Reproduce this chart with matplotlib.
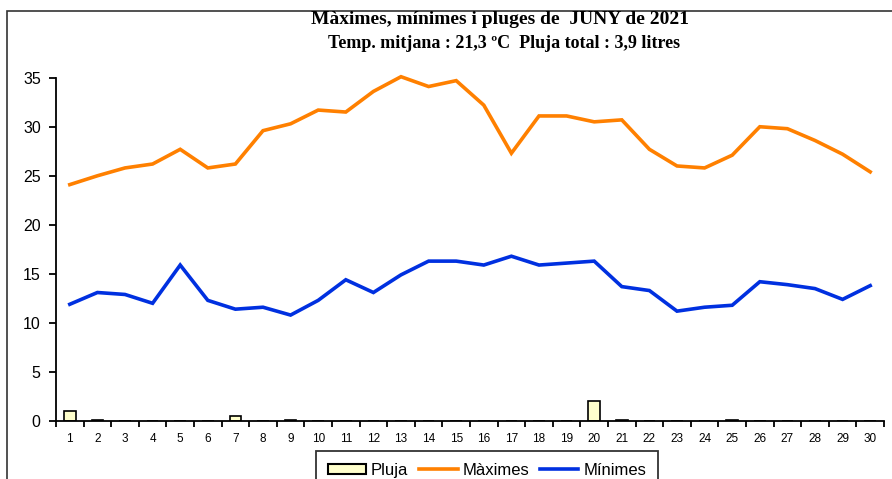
import matplotlib
matplotlib.use("Agg")
import matplotlib.pyplot as plt
from matplotlib.patches import Rectangle, Patch
from matplotlib.lines import Line2D
import numpy as np

days = list(range(1, 31))
maximes = [24.1, 25.0, 25.8, 26.2, 27.7, 25.8, 26.2, 29.6, 30.3, 31.7,
           31.5, 33.6, 35.1, 34.1, 34.7, 32.2, 27.3, 31.1, 31.1, 30.5,
           30.7, 27.7, 26.0, 25.8, 27.1, 30.0, 29.8, 28.6, 27.2, 25.4]
minimes = [11.9, 13.1, 12.9, 12.0, 15.9, 12.3, 11.4, 11.6, 10.8, 12.3,
           14.4, 13.1, 14.9, 16.3, 16.3, 15.9, 16.8, 15.9, 16.1, 16.3,
           13.7, 13.3, 11.2, 11.6, 11.8, 14.2, 13.9, 13.5, 12.4, 13.8]
pluja = [1.0, 0.1, 0, 0, 0, 0, 0.5, 0, 0.1, 0,
         0, 0, 0, 0, 0, 0, 0, 0, 0, 2.0,
         0.1, 0, 0, 0, 0.1, 0, 0, 0, 0, 0]

title1 = "Màximes, mínimes i pluges de  JUNY de 2021"
title2 = "Temp. mitjana : 21,3 ºC  Pluja total : 3,9 litres"

c_max = "#FF8000"
c_min = "#0030E0"
c_rain = "#FFFFCC"

W, H = 892, 479
fig = plt.figure(figsize=(W / 100, H / 100), dpi=100)
ax = fig.add_axes([56 / W, 1 - 421 / H, (884 - 56) / W, (421 - 77.7) / H])

ax.bar(days, pluja, width=0.42, color=c_rain, edgecolor="black", linewidth=1.2, zorder=2)
ax.plot(days, maximes, color=c_max, lw=2.6, zorder=3, clip_on=False, solid_joinstyle="miter")
ax.plot(days, minimes, color=c_min, lw=2.6, zorder=3, clip_on=False, solid_joinstyle="miter")

ax.set_xlim(0.5, 30.5)
ax.set_ylim(0, 35)
for s in ("top", "right"):
    ax.spines[s].set_visible(False)
for s in ("left", "bottom"):
    ax.spines[s].set_linewidth(1.3)

ax.set_yticks(range(0, 36, 5))
ax.tick_params(axis="y", direction="out", length=5, width=1.3, labelsize=11.5, pad=6)
ax.set_xticks(np.arange(0.5, 31, 1))
ax.set_xticklabels([])
ax.tick_params(axis="x", which="major", direction="out", length=4, width=1.3)
ax.set_xticks(days, minor=True)
ax.set_xticklabels([str(d) for d in days], minor=True)
ax.tick_params(axis="x", which="minor", length=0, labelsize=8.5, pad=9)
for lab in ax.get_xticklabels(minor=True) + ax.get_yticklabels():
    lab.set_family("Liberation Sans")

fig.text(500 / W, 1 - 19 / H, title1, ha="center", va="center",
         family="Liberation Serif", weight="bold", fontsize=14)
fig.text(504 / W, 1 - 44 / H, title2, ha="center", va="center",
         family="Liberation Serif", weight="bold", fontsize=13)

fig.add_artist(Rectangle((7 / W, -0.1), 2, 1.1 - 11 / H, transform=fig.transFigure,
                         fill=False, edgecolor="#333333", lw=1.2))

handles = [Patch(facecolor=c_rain, edgecolor="black", lw=1.5),
           Line2D([], [], color=c_max, lw=2.6),
           Line2D([], [], color=c_min, lw=2.6)]
leg = fig.legend(handles, ["Pluja", "Màximes", "Mínimes"], ncol=3,
                 loc="upper left", bbox_to_anchor=(316 / W, 1 - 451 / H),
                 prop={"family": "Liberation Sans", "size": 12},
                 frameon=True, fancybox=False, edgecolor="black",
                 handlelength=2.3, handleheight=0.5, handletextpad=0.3,
                 columnspacing=0.65, borderpad=0.7, borderaxespad=0)
leg.get_frame().set_linewidth(1.3)

fig.savefig("out.png", dpi=100)
